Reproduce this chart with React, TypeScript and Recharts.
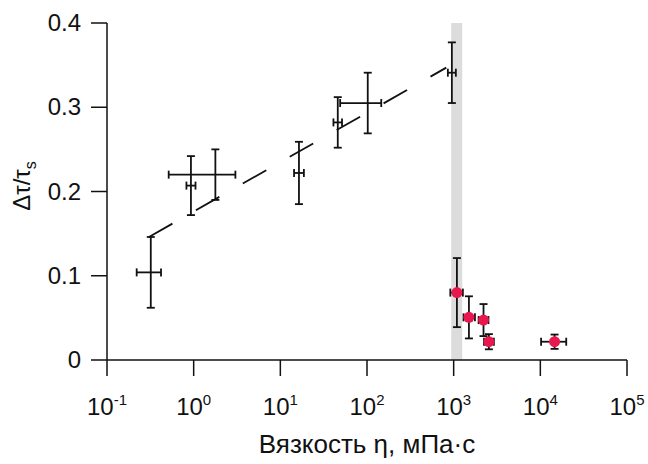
import {
  ErrorBar,
  Label,
  ReferenceArea,
  ReferenceLine,
  Scatter,
  ScatterChart,
  XAxis,
  YAxis,
} from 'recharts'

// open points: viscosity (mPa·s), Δτ/τs, and their errors [low, high]
const viscosity = [0.32, 0.93, 1.78, 16.4, 46, 102, 953]
const ratio = [0.104, 0.207, 0.22, 0.222, 0.282, 0.305, 0.341]
const viscosityErr = [
  [0.1, 0.1],
  [0.105, 0.12],
  [1.265, 1.25],
  [2.0, 2.3],
  [5, 5.5],
  [53, 44],
  [96, 107],
]
const ratioErr = [0.042, 0.035, 0.03, 0.037, 0.03, 0.036, 0.036]

// red points
const redViscosity = [1090, 1500, 2210, 2550, 14600]
const redRatio = [0.08, 0.0506, 0.0474, 0.0217, 0.0217]
const redViscosityErr = [
  [175, 187],
  [200, 260],
  [270, 310],
  [310, 360],
  [4400, 5300],
]
const redRatioErr = [0.041, 0.025, 0.019, 0.009, 0.0085]

const xTicks = [0.1, 1, 10, 100, 1000, 10000, 100000]
const xExponents = ['-1', '0', '1', '2', '3', '4', '5']
const yTicks = [0, 0.1, 0.2, 0.3, 0.4]

// dashed trend line ends and the grey band
const fitLine = [
  { x: 0.305, y: 0.146 },
  { x: 822, y: 0.347 },
]
const band = [937, 1256]

const INK = '#111111'
const RED = '#e8184e'
const FONT = '"Liberation Sans", Arial, Helvetica, sans-serif'

const openData = viscosity.map((x, i) => ({
  x,
  y: ratio[i],
  xErr: viscosityErr[i],
  yErr: ratioErr[i],
}))
const redData = redViscosity.map((x, i) => ({
  x,
  y: redRatio[i],
  xErr: redViscosityErr[i],
  yErr: redRatioErr[i],
}))

function XTick(props: any) {
  const { x, y, payload } = props
  const idx = xTicks.indexOf(payload.value)
  return (
    <text x={x} y={y + 37} textAnchor="middle" fill={INK} fontFamily={FONT} fontSize={24}>
      10
      <tspan dy={-10} fontSize={15}>
        {xExponents[idx]}
      </tspan>
    </text>
  )
}

function YTick(props: any) {
  const { x, y, payload } = props
  return (
    <text x={x} y={y + 8} textAnchor="end" fill={INK} fontFamily={FONT} fontSize={24}>
      {payload.value === 0 ? '0' : payload.value.toFixed(1)}
    </text>
  )
}

const noMarker = () => <g />
const redMarker = (p: any) => <circle cx={p.cx} cy={p.cy} r={5.5} fill={RED} />

export default function App() {
  return (
    <div style={{ position: 'absolute', left: 0, top: 0 }}>
      <ScatterChart width={648} height={464} margin={{ top: 23, right: 21, bottom: 0, left: 0 }}>
        <ReferenceArea x1={band[0]} x2={band[1]} y1={0} y2={0.4} fill="#dcdcdc" fillOpacity={1} stroke="none" />
        <XAxis
          type="number"
          dataKey="x"
          scale="log"
          domain={[0.1, 100000]}
          ticks={xTicks}
          interval={0}
          allowDataOverflow
          height={104}
          tickSize={16}
          axisLine={{ stroke: INK, strokeWidth: 1.5 }}
          tickLine={{ stroke: INK, strokeWidth: 1.5 }}
          tick={<XTick />}
        >
          <Label
            content={(p: any) => (
              <text
                x={p.viewBox.x + p.viewBox.width / 2}
                y={453}
                textAnchor="middle"
                fill={INK}
                fontFamily={FONT}
                fontSize={26}
              >
                Вязкость η, мПа·с
              </text>
            )}
          />
        </XAxis>
        <YAxis
          type="number"
          dataKey="y"
          domain={[0, 0.4]}
          ticks={yTicks}
          width={107}
          tickSize={16}
          tickMargin={10}
          axisLine={{ stroke: INK, strokeWidth: 1.5 }}
          tickLine={{ stroke: INK, strokeWidth: 1.5 }}
          tick={<YTick />}
        >
          <Label
            content={() => (
              <text
                x={30}
                y={186}
                transform="rotate(-90, 30, 186)"
                textAnchor="middle"
                fill={INK}
                fontFamily={FONT}
                fontSize={24}
              >
                Δτ/τ
                <tspan dy={6} fontSize={16}>
                  s
                </tspan>
              </text>
            )}
          />
        </YAxis>
        <ReferenceLine segment={fitLine} stroke={INK} strokeWidth={1.8} strokeDasharray="27 27" />
        <Scatter data={redData} shape={redMarker} isAnimationActive={false}>
          <ErrorBar dataKey="xErr" direction="x" width={4} stroke={INK} strokeWidth={1.8} />
          <ErrorBar dataKey="yErr" direction="y" width={4} stroke={INK} strokeWidth={1.8} />
        </Scatter>
        <Scatter data={openData} shape={noMarker} isAnimationActive={false}>
          <ErrorBar dataKey="xErr" direction="x" width={4} stroke={INK} strokeWidth={1.8} />
          <ErrorBar dataKey="yErr" direction="y" width={4} stroke={INK} strokeWidth={1.8} />
        </Scatter>
      </ScatterChart>
    </div>
  )
}
